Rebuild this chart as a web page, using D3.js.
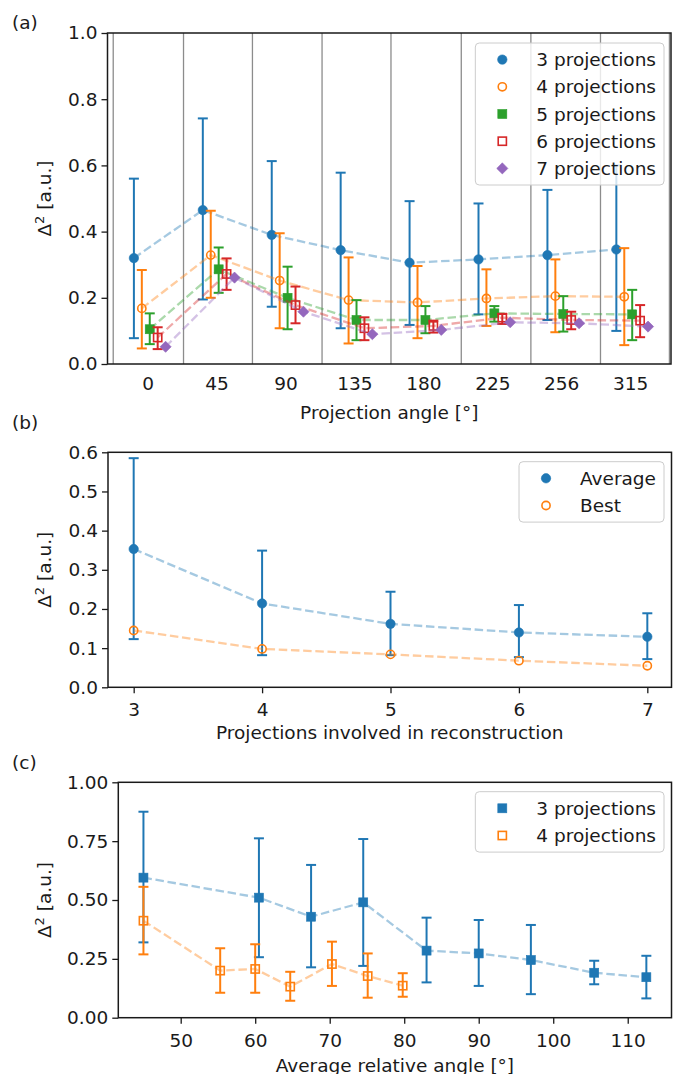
<!DOCTYPE html>
<html>
<head>
<meta charset="utf-8">
<script src="https://cdn.jsdelivr.net/npm/d3@7"></script>
<style>
  body { margin: 0; background: #fff; }
  text { font-family: "DejaVu Sans", sans-serif; fill: #1a1a1a; }
</style>
</head>
<body>
<svg id="fig" width="673" height="1074"></svg>
<script>

// ---- Panel (a) : error per projection angle
const anglesA = ["0", "45", "90", "135", "180", "225", "256", "315"];
const separatorsA = [-0.5, 0.52, 1.52, 2.53, 3.53, 4.55, 5.56, 6.57, 7.57];
const namesA = ["3 projections", "4 projections", "5 projections", "6 projections", "7 projections"];

const mean3 = [0.320, 0.465, 0.390, 0.344, 0.306, 0.316, 0.329, 0.346];
const lo3   = [0.078, 0.195, 0.173, 0.108, 0.118, 0.150, 0.133, 0.100];
const hi3   = [0.560, 0.742, 0.613, 0.578, 0.492, 0.485, 0.526, 0.600];

const mean4 = [0.168, 0.329, 0.252, 0.193, 0.186, 0.198, 0.205, 0.203];
const lo4   = [0.047, 0.200, 0.108, 0.062, 0.078, 0.115, 0.096, 0.057];
const hi4   = [0.284, 0.463, 0.395, 0.322, 0.296, 0.286, 0.316, 0.350];

const mean5 = [0.105, 0.286, 0.200, 0.133, 0.133, 0.153, 0.151, 0.150];
const lo5   = [0.060, 0.215, 0.105, 0.072, 0.093, 0.128, 0.098, 0.072];
const hi5   = [0.153, 0.352, 0.294, 0.193, 0.175, 0.175, 0.205, 0.224];

const mean6 = [0.080, 0.272, 0.178, 0.108, 0.115, 0.140, 0.133, 0.131];
const lo6   = [0.045, 0.224, 0.123, 0.072, 0.095, 0.121, 0.105, 0.081];
const hi6   = [0.111, 0.319, 0.234, 0.141, 0.131, 0.151, 0.158, 0.178];

const mean7 = [0.052, 0.261, 0.158, 0.090, 0.103, 0.126, 0.123, 0.113];

// ---- Panel (b) : average and best vs number of projections
const nProj   = [3, 4, 5, 6, 7];
const avgB    = [0.353, 0.214, 0.162, 0.140, 0.129];
const avgLoB  = [0.123, 0.082, 0.082, 0.077, 0.072];
const avgHiB  = [0.585, 0.349, 0.244, 0.210, 0.189];
const bestB   = [0.145, 0.098, 0.084, 0.068, 0.055];

// ---- Panel (c) : error vs average relative angle
const angC3  = [45, 60.5, 67.5, 74.5, 83, 90, 97, 105.5, 112.5];
const meanC3 = [0.595, 0.510, 0.429, 0.490, 0.285, 0.273, 0.245, 0.191, 0.172];
const loC3   = [0.320, 0.257, 0.214, 0.220, 0.150, 0.135, 0.100, 0.142, 0.082];
const hiC3   = [0.875, 0.762, 0.649, 0.759, 0.425, 0.415, 0.394, 0.242, 0.263];

const angC4  = [45, 55.3, 60, 64.7, 70.3, 75.1, 79.8];
const meanC4 = [0.412, 0.200, 0.207, 0.132, 0.228, 0.177, 0.136];
const loC4   = [0.269, 0.106, 0.106, 0.072, 0.135, 0.085, 0.089];
const hiC4   = [0.556, 0.295, 0.312, 0.195, 0.323, 0.273, 0.189];


const couleurs = ["#1f77b4", "#ff7f0e", "#2ca02c", "#d62728", "#9467bd"];
const fs = 18.5;
const ink = "#1a1a1a";

let svg = d3.select("#fig");


//Dessin d'un marqueur
function marqueur(g, forme, plein, coul, cx, cy) {
  let m;
  if (forme === "o") {
    m = g.append("circle").attr("cx", cx).attr("cy", cy).attr("r", plein ? 4.7 : 4.1);
  } else if (forme === "s") {
    let c = plein ? 9 : 8.2;
    m = g.append("rect").attr("x", cx - c / 2).attr("y", cy - c / 2).attr("width", c).attr("height", c);
  } else {
    m = g.append("path")
      .attr("d", d3.symbol().type(d3.symbolSquare).size(62)())
      .attr("transform", `translate(${cx},${cy}) rotate(45)`);
  }
  if (plein) {
    m.attr("fill", coul).attr("stroke", coul).attr("stroke-width", 0.6);
  } else {
    m.attr("fill", "none").attr("stroke", coul).attr("stroke-width", 1.6);
  }
}


//Dessin d'une série : ligne pointillée, barres d'erreur, marqueurs
function serie(g, x, y, xs, moy, bas, haut, coul, forme, plein) {
  g.append("path")
    .datum(xs.map((v, i) => [v, moy[i]]))
    .attr("fill", "none")
    .attr("stroke", coul)
    .attr("stroke-width", 2.3)
    .attr("stroke-opacity", 0.4)
    .attr("stroke-dasharray", "8.5,3.7")
    .attr("d", d3.line().x(d => x(d[0])).y(d => y(d[1])));

  if (bas) {
    xs.forEach((v, i) => {
      let px = x(v);
      g.append("line").attr("x1", px).attr("x2", px)
        .attr("y1", y(bas[i])).attr("y2", y(haut[i]))
        .attr("stroke", coul).attr("stroke-width", 2);
      [bas[i], haut[i]].forEach(e => {
        g.append("line").attr("x1", px - 5).attr("x2", px + 5)
          .attr("y1", y(e)).attr("y2", y(e))
          .attr("stroke", coul).attr("stroke-width", 2);
      });
    });
  }

  xs.forEach((v, i) => marqueur(g, forme, plein, coul, x(v), y(moy[i])));
}


//Axes et cadre
function axes(box, x, y, yTicks, yFmt, xTicks, xFmt, tailleTick, xTitre, lettre, yBase) {
  let ax = svg.append("g")
    .attr("transform", `translate(${box.l},0)`)
    .call(d3.axisLeft(y).tickValues(yTicks).tickFormat(yFmt).tickSize(6).tickPadding(4));
  ax.select(".domain").remove();
  ax.attr("font-size", fs).attr("font-family", "DejaVu Sans").style("color", ink);
  ax.selectAll("line").attr("stroke-width", 1.3);

  let axb = svg.append("g")
    .attr("transform", `translate(0,${box.b})`)
    .call(d3.axisBottom(x).tickValues(xTicks).tickFormat(xFmt)
      .tickSize(tailleTick).tickPadding(tailleTick === 0 ? 13 : 10));
  axb.select(".domain").remove();
  axb.attr("font-size", fs).attr("font-family", "DejaVu Sans").style("color", ink);
  axb.selectAll("line").attr("stroke-width", 1.3);

  svg.append("rect")
    .attr("x", box.l).attr("y", box.t)
    .attr("width", box.r - box.l).attr("height", box.b - box.t)
    .attr("fill", "none").attr("stroke", ink).attr("stroke-width", 1.5);

  svg.append("text")
    .attr("x", (box.l + box.r) / 2).attr("y", xTitre.y)
    .attr("text-anchor", "middle").attr("font-size", fs)
    .text(xTitre.t);

  //Titre Y : Δ² [a.u.]
  let yt = svg.append("text")
    .attr("transform", `translate(51,${(box.t + box.b) / 2}) rotate(-90)`)
    .attr("text-anchor", "middle").attr("font-size", fs);
  yt.append("tspan").text("Δ");
  yt.append("tspan").attr("font-size", 13).attr("dy", -7.5).text("2");
  yt.append("tspan").attr("dy", 7.5).text(" [a.u.]");

  svg.append("text")
    .attr("x", 12).attr("y", yBase)
    .attr("font-size", fs)
    .text(lettre);
}


//Légende
function legende(items, droite, haut) {
  let g = svg.append("g");
  let fond = g.append("rect");
  let largeur = 0;
  items.forEach((it, i) => {
    let cy = 16.6 + i * 27.2;
    let t = g.append("text").attr("x", 61).attr("y", cy + 6.6)
      .attr("font-size", fs).text(it.nom);
    largeur = Math.max(largeur, t.node().getComputedTextLength());
    marqueur(g, it.forme, it.plein, it.coul, 27, cy);
  });
  let w = 61 + largeur + 8;
  let h = 2 * 16.6 + (items.length - 1) * 27.2;
  fond.attr("width", w).attr("height", h).attr("rx", 4)
    .attr("fill", "white").attr("fill-opacity", 0.8)
    .attr("stroke", "#cccccc").attr("stroke-width", 1);
  g.attr("transform", `translate(${droite - w},${haut})`);
}


// ================= Panel (a)
let boxA = {l: 107.5, r: 671, t: 33, b: 364};
let xA = d3.scaleLinear().domain([-0.583, 7.593]).range([boxA.l, boxA.r]);
let yA = d3.scaleLinear().domain([0, 1]).range([boxA.b, boxA.t]);

let gA = svg.append("g");
separatorsA.forEach(s => {
  gA.append("line").attr("x1", xA(s)).attr("x2", xA(s))
    .attr("y1", boxA.t).attr("y2", boxA.b)
    .attr("stroke", "#8c8c8c").attr("stroke-width", 1.3);
});

let decalage = [-0.2, -0.085, 0.03, 0.145, 0.26];
let formesA = [["o", true], ["o", false], ["s", true], ["s", false], ["D", true]];
let moyA = [mean3, mean4, mean5, mean6, mean7];
let basA = [lo3, lo4, lo5, lo6, null];
let hautA = [hi3, hi4, hi5, hi6, null];

moyA.forEach((m, s) => {
  let xs = d3.range(anglesA.length).map(k => k + decalage[s]);
  serie(gA, xA, yA, xs, m, basA[s], hautA[s], couleurs[s], formesA[s][0], formesA[s][1]);
});

axes(boxA, xA, yA, d3.range(0, 1.01, 0.2), d3.format(".1f"),
  d3.range(anglesA.length), k => anglesA[k], 0,
  {t: "Projection angle [°]", y: 418.5}, "(a)", 29);

legende(namesA.map((n, s) => ({nom: n, forme: formesA[s][0], plein: formesA[s][1], coul: couleurs[s]})),
  boxA.r - 7, boxA.t + 10);


// ================= Panel (b)
let boxB = {l: 108, r: 671.5, t: 452.3, b: 687.3};
let xB = d3.scaleLinear().domain([2.8, 7.2]).range([boxB.l, boxB.r + 1.5]);
let yB = d3.scaleLinear().domain([0, 0.6]).range([boxB.b, boxB.t]);

let gB = svg.append("g");
serie(gB, xB, yB, nProj, avgB, avgLoB, avgHiB, couleurs[0], "o", true);
serie(gB, xB, yB, nProj, bestB, null, null, couleurs[1], "o", false);

axes(boxB, xB, yB, d3.range(0, 0.61, 0.1), d3.format(".1f"),
  nProj, d3.format("d"), 6,
  {t: "Projections involved in reconstruction", y: 738.5}, "(b)", 429);

legende([
  {nom: "Average", forme: "o", plein: true, coul: couleurs[0]},
  {nom: "Best", forme: "o", plein: false, coul: couleurs[1]}
], boxB.r - 7.5, boxB.t + 9.4);


// ================= Panel (c)
let boxC = {l: 118.3, r: 671.5, t: 782.3, b: 1017.7};
let xC = d3.scaleLinear().domain([41.625, 115.875]).range([boxC.l, boxC.r]);
let yC = d3.scaleLinear().domain([0, 1]).range([boxC.b, boxC.t]);

let gC = svg.append("g");
serie(gC, xC, yC, angC3, meanC3, loC3, hiC3, couleurs[0], "s", true);
serie(gC, xC, yC, angC4, meanC4, loC4, hiC4, couleurs[1], "s", false);

axes(boxC, xC, yC, d3.range(0, 1.01, 0.25), d3.format(".2f"),
  d3.range(50, 111, 10), d3.format("d"), 6,
  {t: "Average relative angle [°]", y: 1071.5}, "(c)", 769);

legende([
  {nom: "3 projections", forme: "s", plein: true, coul: couleurs[0]},
  {nom: "4 projections", forme: "s", plein: false, coul: couleurs[1]}
], boxC.r - 7.5, boxC.t + 9.4);

</script>
</body>
</html>
